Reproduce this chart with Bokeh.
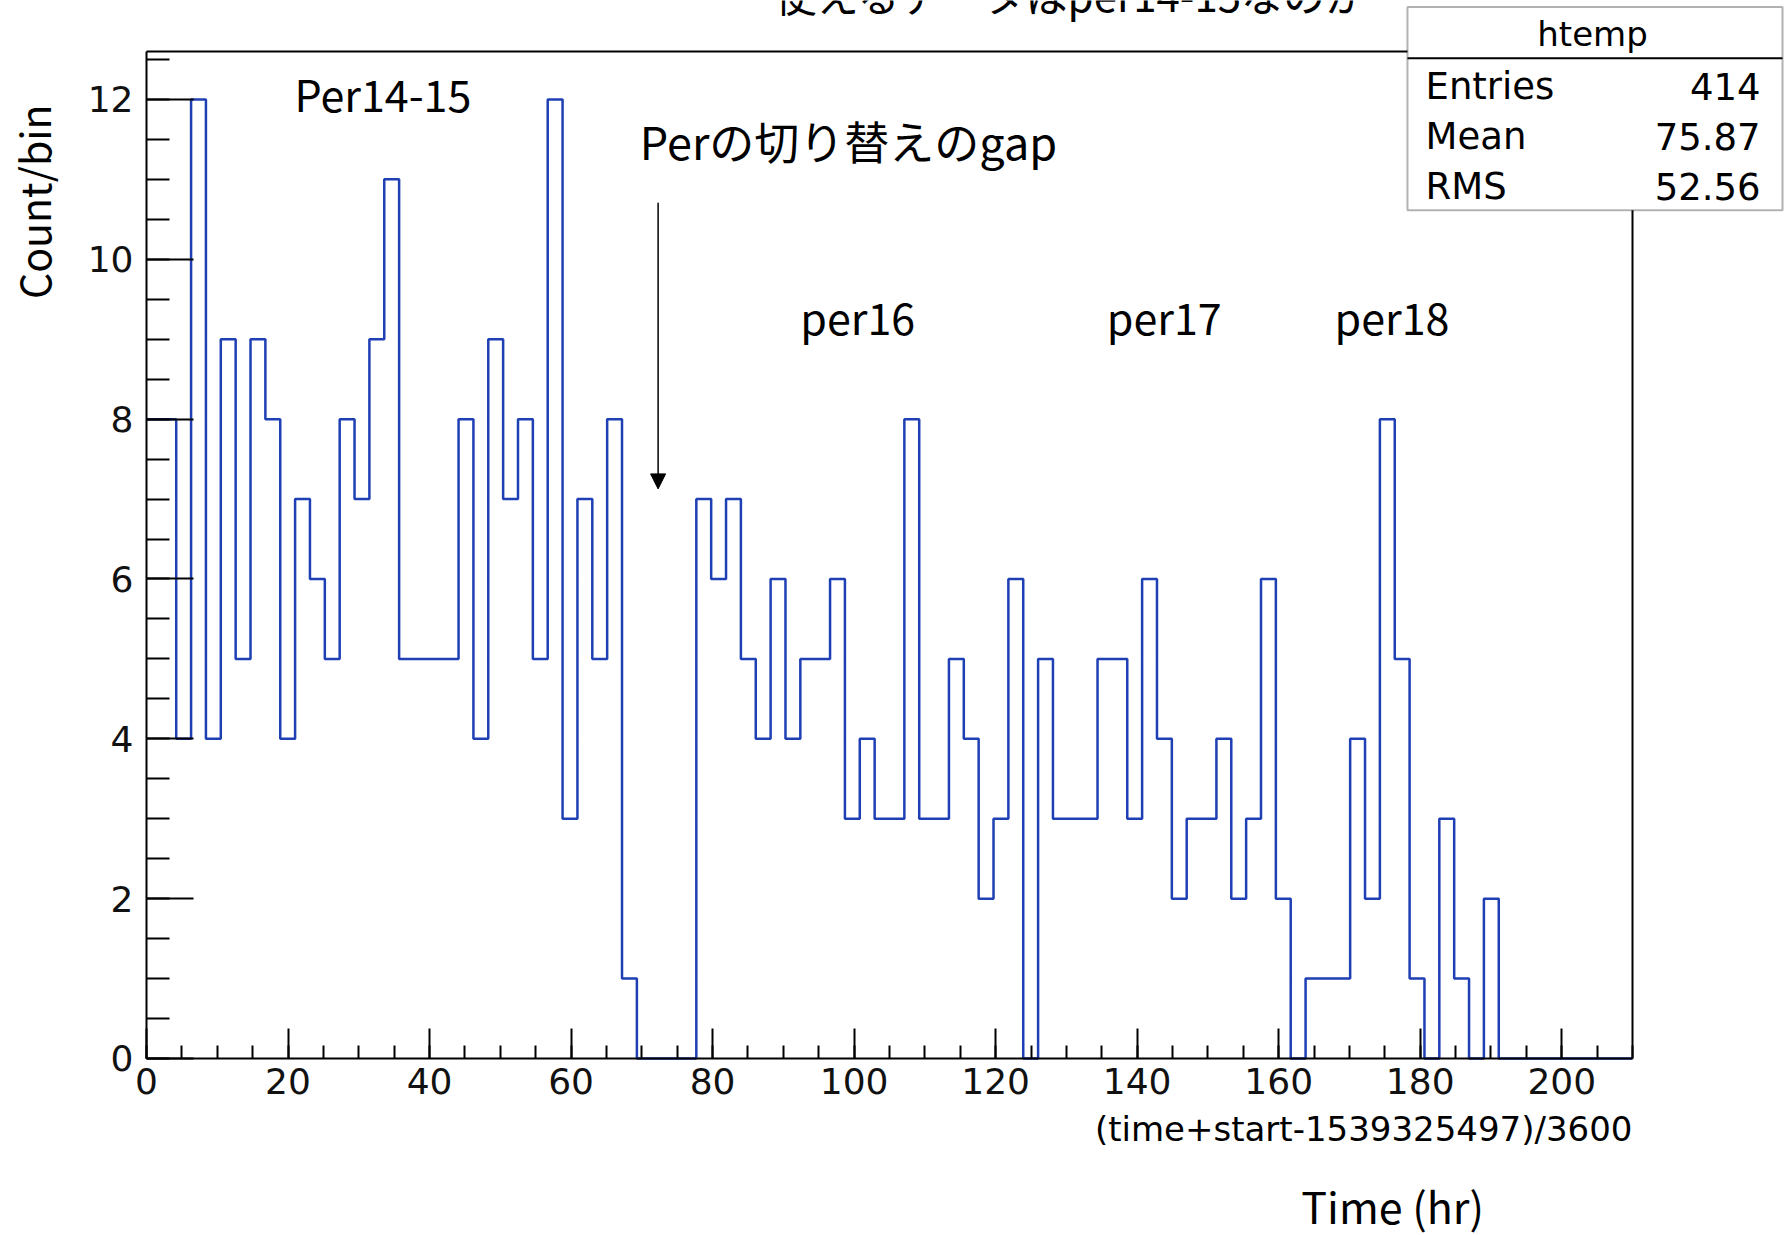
from bokeh.plotting import figure
from bokeh.models import (SingleIntervalTicker, FixedTicker, LinearAxis, Range1d,
                          Label, Arrow, NormalHead, PolyAnnotation)
from bokeh.embed import file_html
from bokeh.resources import INLINE

# Histogram "htemp": 100 bins of 2.1 hr from 0 to 210
BIN_LOW = 0.0
BIN_WIDTH = 2.1
counts = [8, 8, 4, 12, 4, 9, 5, 9, 8, 4,
          7, 6, 5, 8, 7, 9, 11, 5, 5, 5,
          5, 8, 4, 9, 7, 8, 5, 12, 3, 7,
          5, 8, 1, 0, 0, 0, 0, 7, 6, 7,
          5, 4, 6, 4, 5, 5, 6, 3, 4, 3,
          3, 8, 3, 3, 5, 4, 2, 3, 6, 0,
          5, 3, 3, 3, 5, 5, 3, 6, 4, 2,
          3, 3, 4, 2, 3, 6, 2, 0, 1, 1,
          1, 4, 2, 8, 5, 1, 0, 3, 1, 0,
          2, 0, 0, 0, 0, 0, 0, 0, 0, 0]

X_MAX = 210.0
Y_MAX = 12.6

hist_name = "htemp"
stat_names = ["Entries", "Mean", "RMS"]
stat_values = ["414", "75.87", "52.56"]

period_labels = ["per16", "per17", "per18"]
period_x = [92.4, 135.7, 167.9]

x_title = "(time+start-1539325497)/3600"
y_title = "Count/bin"
time_title = "Time (hr)"
top_note = "使えるデータはper14-15なのか"
gap_note = "Perの切り替えのgap"
first_period = "Per14-15"

ROOT_FONT = "DejaVu Sans"
SLIDE_FONT = "Noto Sans CJK JP"
LINE_BLUE = "#1f3fb4"

# the plotting frame spans the whole page; the histogram box sits inside it
p = figure(width=1789, height=1235,
           x_range=Range1d(-20.632, 232.187), y_range=Range1d(-2.2147, 13.238),
           x_axis_location=None, y_axis_location=None,
           output_backend="svg", toolbar_location=None,
           min_border_left=0, min_border_right=0, min_border_top=0, min_border_bottom=0)
p.min_border = 0
p.background_fill_color = "white"
p.border_fill_color = "white"
p.outline_line_color = None
p.grid.visible = False

edges = [BIN_LOW + i * BIN_WIDTH for i in range(len(counts) + 1)]
p.step(edges, counts + [counts[-1]], mode="after", line_color=LINE_BLUE, line_width=2.5)


def style_axis(ax):
    ax.axis_line_color = "black"
    ax.axis_line_width = 2
    ax.major_tick_line_color = "black"
    ax.major_tick_line_width = 2
    ax.minor_tick_line_color = "black"
    ax.minor_tick_line_width = 2
    ax.major_tick_out = 0
    ax.minor_tick_out = 0
    ax.major_label_text_font = ROOT_FONT
    ax.major_label_text_font_size = "36px"
    ax.major_label_text_color = "#111111"


xaxis = LinearAxis(fixed_location=0, bounds=(0, X_MAX),
                   ticker=SingleIntervalTicker(interval=20, num_minor_ticks=4))
style_axis(xaxis)
xaxis.major_tick_in = 30
xaxis.minor_tick_in = 13
xaxis.major_label_standoff = 10
p.add_layout(xaxis, "below")

yaxis = LinearAxis(fixed_location=0, bounds=(0, Y_MAX),
                   ticker=SingleIntervalTicker(interval=2, num_minor_ticks=4))
style_axis(yaxis)
yaxis.major_tick_in = 47
yaxis.minor_tick_in = 23
yaxis.major_label_standoff = 13
p.add_layout(yaxis, "left")

# closing lines of the frame (no ticks on the opposite sides)
for side, loc, bnd in (("above", Y_MAX, (0, X_MAX)), ("right", X_MAX, (0, Y_MAX))):
    ax = LinearAxis(fixed_location=loc, bounds=bnd, ticker=FixedTicker(ticks=[]))
    style_axis(ax)
    ax.major_tick_in = 0
    ax.minor_tick_in = 0
    ax.major_label_text_font_size = "0px"
    p.add_layout(ax, side)


def add_label(x, y, text, font, size, align="left", baseline="alphabetic", angle=0.0):
    p.add_layout(Label(x=x, y=y, text=text, text_font=font, text_font_size=size,
                       text_align=align, text_baseline=baseline, angle=angle,
                       text_color="black"))


# axis titles
add_label(X_MAX, -0.88, x_title, ROOT_FONT, "34px", align="right")
add_label(-16.1, 10.72, y_title, SLIDE_FONT, "41px", align="center", baseline="middle", angle=1.5708)
add_label(163.2, -1.83, time_title, SLIDE_FONT, "43px")

# notes on the slide
add_label(88.8, 13.32, top_note, SLIDE_FONT, "42px")
add_label(20.9, 12.085, first_period, SLIDE_FONT, "43px")
add_label(69.7, 11.484, gap_note, SLIDE_FONT, "45px")
for name, xp in zip(period_labels, period_x):
    add_label(xp, 9.294, name, SLIDE_FONT, "43px")

p.add_layout(Arrow(end=NormalHead(size=15, fill_color="black", line_color="black"),
                   x_start=72.3, y_start=10.706, x_end=72.3, y_end=7.127,
                   line_color="black", line_width=1.5))

# statistics box
bx0, bx1, by0, by1, bsep = 178.2, 231.2, 10.614, 13.158, 12.516
p.add_layout(PolyAnnotation(xs=[bx0, bx1, bx1, bx0], ys=[by0, by0, by1, by1],
                            fill_color="white", fill_alpha=1.0,
                            line_color="black", line_width=2))
p.add_layout(Arrow(end=None, x_start=bx0, y_start=bsep, x_end=bx1, y_end=bsep,
                   line_color="black", line_width=2))
add_label(204.35, 12.82, hist_name, ROOT_FONT, "34px", align="center")
for i, (nm, vl) in enumerate(zip(stat_names, stat_values)):
    yb = 12.167 - i * 0.6256
    add_label(180.75, yb, nm, ROOT_FONT, "37px")
    add_label(228.1, yb, vl, ROOT_FONT, "37px", align="right")

open("out.html", "w").write(file_html(p, INLINE))
